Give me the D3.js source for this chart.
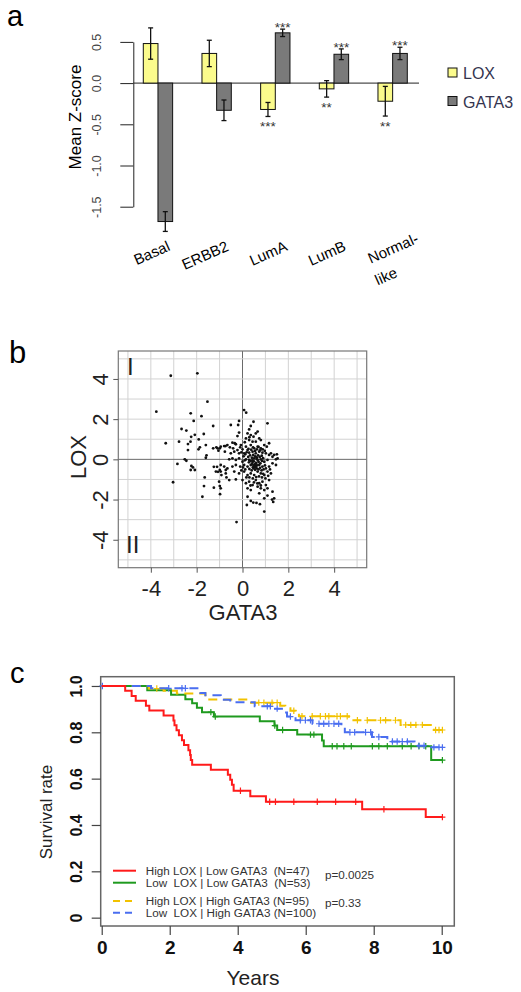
<!DOCTYPE html>
<html>
<head>
<meta charset="utf-8">
<script src="https://d3js.org/d3.v7.min.js"></script>
<style>
  html, body { margin: 0; padding: 0; background: #fff; }
  svg { display: block; }
  text { font-family: "Liberation Sans", Arial, sans-serif; }
</style>
</head>
<body>
<div id="chart"></div>
<script>
// ---- panel a: mean z-score per subtype
const subtypes = ["Basal", "ERBB2", "LumA", "LumB", "Normal-like"];
const genes = ["LOX", "GATA3"];
const loxMean = [0.48, 0.36, -0.32, -0.07, -0.22];
const loxErr = [0.19, 0.16, 0.085, 0.10, 0.18];
const gataMean = [-1.68, -0.33, 0.61, 0.35, 0.36];
const gataErr = [0.12, 0.125, 0.045, 0.065, 0.075];
const loxStars = ["", "", "***", "**", "**"];
const gataStars = ["", "", "***", "***", "***"];
const zTicks = [-1.5, -1, -0.5, 0, 0.5];

// ---- panel b: GATA3 (x) vs LOX (y)
const scatterTicks = [-4, -2, 0, 2, 4];
const scatterPoints = [
  [-3.13,4.16],[-1.97,4.28],[-1.53,2.87],[-3.76,2.37],[-2.26,2.29],[-1.79,2.15],[-2.13,1.91],[-1.28,1.66],
  [-2.66,1.51],[-2.45,1.43],[-2.24,1.12],[-2.08,1.22],[-1.69,1.26],[-1.91,0.99],[-3.35,0.80],[-2.77,0.88],
  [-2.38,0.76],[-2.27,0.88],[-1.86,0.60],[-1.92,0.50],[-2.38,0.46],[-1.60,0.71],[-1.28,0.55],[-1.14,0.60],
  [-0.99,0.55],[-1.05,0.43],[-0.77,0.38],[-0.55,0.60],[-0.34,0.80],[-0.41,0.55],[-0.74,0.66],[-1.57,0.20],
  [-1.60,0.08],[-2.52,0.00],[-2.45,-0.07],[-2.84,-0.23],[-2.23,-0.33],[-2.16,-0.40],[-2.08,-0.53],[-2.26,-0.53],
  [-1.25,-0.37],[-1.11,-0.37],[-0.99,-0.53],[-1.07,-0.62],[-0.73,-0.53],[-0.92,-0.78],[-0.70,-0.90],[-1.65,-0.90],
  [-3.03,-1.14],[-1.68,-1.33],[-1.25,-1.41],[-0.99,-1.33],[-1.75,-1.86],[-0.98,-1.73],[-0.26,-3.12],
  [0.07,2.45],[0.16,2.32],[-0.51,1.71],[-0.15,1.91],[-0.19,1.71],[0.48,1.87],[1.09,1.79],[0.36,1.66],
  [0.29,1.49],[-0.15,1.33],[0.22,1.29],[0.36,1.21],[0.58,1.29],[0.66,1.38],
  [-0.22,1.16],[0.48,1.13],[0.15,1.04],[0.73,1.04],[0.80,0.96],[0.29,0.96],[0.58,0.88],[0.44,0.88],
  [-0.44,0.83],[-0.29,0.75],[-0.66,0.71],[-0.80,0.66],[-0.95,0.63],[-1.09,0.55],[0.95,0.71],[1.06,0.63],
  [1.16,0.80],[-0.07,0.71],[0.15,0.63],[0.36,0.71],[0.66,0.63],[0.80,0.55],[0.51,0.55],[0.22,0.46],[0.00,0.50],
  [-0.36,0.38],[-0.22,0.46],[-0.51,0.30],[-0.15,0.30],[0.07,0.30],[0.29,0.33],[0.44,0.38],[0.58,0.30],
  [0.73,0.38],[0.87,0.33],[1.02,0.30],[1.16,0.22],[1.24,0.30],[1.38,0.22],[1.50,0.25],
  [-0.58,0.00],[-0.44,0.05],[-0.29,-0.03],[-0.15,0.05],[0.00,-0.12],[0.15,0.00],[0.29,-0.03],[0.44,-0.12],
  [0.51,0.05],[0.66,-0.03],[0.80,0.00],[0.95,-0.12],[1.09,-0.03],[1.31,0.13],[1.46,0.00],[1.53,0.05],
  [-0.95,-0.28],[-0.80,-0.36],[-0.66,-0.45],[-0.44,-0.36],[-0.29,-0.28],[-0.10,-0.36],[0.07,-0.28],[0.22,-0.36],
  [0.36,-0.28],[0.48,-0.45],[0.58,-0.33],[0.73,-0.28],[0.87,-0.36],[1.02,-0.45],[1.16,-0.36],[1.31,-0.20],[1.46,-0.28],
  [-1.16,-0.61],[-0.95,-0.61],[-0.73,-0.70],[-0.36,-0.61],[-0.15,-0.70],[0.07,-0.61],[0.22,-0.78],[0.36,-0.70],
  [0.51,-0.78],[0.66,-0.61],[0.80,-0.70],[0.95,-0.78],[1.09,-0.61],[1.24,-0.70],
  [-1.02,-1.11],[-0.58,-1.03],[-0.29,-1.00],[0.00,-1.03],[0.15,-1.19],[0.29,-1.11],[0.44,-1.28],[0.58,-1.03],
  [0.73,-1.19],[0.87,-1.11],[1.02,-1.28],[1.16,-1.03],
  [-0.95,-1.44],[0.22,-1.44],[0.36,-1.53],[0.66,-1.36],[0.80,-1.44],[0.95,-1.53],[1.09,-1.44],[1.31,-1.61],
  [0.22,-1.86],[0.73,-1.69],[0.95,-1.94],[1.09,-1.80],[1.38,-1.94],
  [0.19,-2.27],[0.36,-2.07],[0.47,-2.15],[0.61,-2.17],[0.76,-2.23],[1.29,-2.00],[1.34,-2.12],[0.95,-2.60],
  [0.25,0.12],[0.33,0.20],[0.41,0.08],[0.47,0.22],[0.55,0.15],[0.62,0.10],[0.68,0.20],[0.75,0.12],[0.84,0.18],[0.90,0.06],
  [0.28,-0.15],[0.35,-0.08],[0.42,-0.22],[0.50,-0.10],[0.53,-0.25],[0.60,-0.18],[0.64,-0.30],[0.70,-0.12],[0.78,-0.20],[0.85,-0.08],
  [0.30,-0.48],[0.40,-0.55],[0.45,-0.40],[0.55,-0.52],[0.62,-0.45],[0.70,-0.50],[0.77,-0.42],[0.83,-0.55],[0.92,-0.50],[0.98,-0.30],
  [0.18,0.35],[0.26,0.52],[0.38,0.48],[0.46,0.60],[0.55,0.42],[0.63,0.50],[0.70,0.62],[0.77,0.45],[0.88,0.50],[0.97,0.42],
  [0.05,0.15],[0.10,-0.05],[0.12,0.25],[0.02,-0.40],[0.12,-0.50],[-0.05,-0.55],[0.17,-0.90],[0.30,-0.90],[0.45,-0.95],[0.60,-0.88],
  [0.72,-0.85],[0.85,-0.90],[1.00,-0.95],[0.50,-1.15],[0.65,-1.20],[0.80,-1.30],[0.35,-1.30],[0.90,-0.72],[1.12,-0.82],[1.20,-0.50],
  [0.52,-0.35],[0.58,-0.22],[0.48,-0.30],[0.56,-0.40],[0.44,-0.05],[0.62,0.02],[-0.05,0.35],[-0.10,0.60],[0.10,0.85],[0.30,1.10]
];

// ---- panel c: Kaplan-Meier curves (years, survival)
const yearTicks = [0, 2, 4, 6, 8, 10];
const survTicks = [0, 0.2, 0.4, 0.6, 0.8, 1.0];
const redTime = [0,0.69,0.88,1.0,1.3,1.4,1.82,2.11,2.14,2.2,2.27,2.36,2.42,2.55,2.6,2.62,2.66,3.21,3.71,3.78,3.83,3.88,4.37,4.83,7.66,9.53,10.02];
const redSurv = [1,0.979,0.957,0.936,0.915,0.894,0.872,0.851,0.830,0.809,0.787,0.766,0.745,0.723,0.702,0.681,0.660,0.638,0.617,0.595,0.574,0.548,0.524,0.500,0.468,0.434,0.434];
const redCensor = [4.08,4.94,5.11,5.65,6.34,6.88,7.47,8.3,10.02];
const greenTime = [0,1.34,2.04,2.46,2.66,2.8,2.95,3.3,4.65,5.08,5.16,5.75,6.48,6.53,9.69,10.02];
const greenSurv = [1,0.981,0.962,0.943,0.925,0.906,0.887,0.868,0.848,0.829,0.81,0.79,0.765,0.74,0.68,0.68];
const greenCensor = [3.21,3.34,5.09,5.32,6.14,6.24,6.78,6.92,7.12,7.34,7.96,8.15,8.4,8.84,9.1,9.33,9.53,10.02];
const yellowTime = [0,1.38,1.82,2.21,3.05,4.3,5.25,5.4,5.55,5.7,5.8,7.27,8.79,9.77,10.02];
const yellowSurv = [1,0.989,0.979,0.968,0.942,0.928,0.915,0.904,0.893,0.882,0.869,0.852,0.832,0.81,0.81];
const yellowCensor = [1.62,4.62,4.77,5.01,5.16,5.65,5.89,6.19,6.43,6.58,6.68,6.92,7.02,7.22,7.52,7.81,8.2,8.35,8.64,8.94,9.09,9.24,9.43,9.82,9.92,10.02];
const blueTime = [0,1.45,2.9,3.05,3.5,3.78,4.5,5.0,5.3,5.45,5.7,6.2,7.05,7.15,7.95,8.4,9.2,9.6,10.02];
const blueSurv = [1,0.99,0.97,0.96,0.94,0.93,0.912,0.902,0.885,0.868,0.852,0.837,0.82,0.80,0.78,0.76,0.742,0.735,0.735];
const blueCensor = [0.02,1.97,2.36,2.46,4.87,4.96,5.16,5.55,5.84,5.99,6.14,6.39,6.53,6.68,6.83,6.97,7.3,7.44,7.76,7.91,8.15,8.55,8.69,8.84,8.99,9.33,9.48,9.77,9.92,10.02];
const kmLabels = ["High LOX | Low GATA3  (N=47)", "Low  LOX | Low GATA3  (N=53)", "High LOX | High GATA3 (N=95)", "Low  LOX | High GATA3 (N=100)"];
const pValues = ["p=0.0025", "p=0.33"];

const svg = d3.select("#chart").append("svg")
    .attr("width", 521)
    .attr("height", 992);

// panel letters
svg.append("text").attr("x", 7).attr("y", 26).attr("font-size", 29).text("a");
svg.append("text").attr("x", 9).attr("y", 363).attr("font-size", 31).text("b");
svg.append("text").attr("x", 10).attr("y", 683).attr("font-size", 29).text("c");

// ================= panel a =================
const ya = d3.scaleLinear().domain([-1.5, 0.5]).range([206.7, 41.9]);
const xa = d3.scaleBand().domain(subtypes).range([143.3, 407.3]).paddingInner(0.5).paddingOuter(0);
const xa1 = d3.scaleBand().domain(genes).range([0, xa.bandwidth()]);

const axA = svg.append("g")
    .attr("transform", "translate(133.3,0)")
    .call(d3.axisLeft(ya).tickValues(zTicks).tickSize(13).tickSizeOuter(0).tickFormat(d => d.toFixed(1)));
axA.select(".domain").attr("stroke", "#222");
axA.selectAll(".tick line").attr("stroke", "#222");
axA.selectAll(".tick text")
    .attr("x", 0).attr("dy", 0)
    .attr("text-anchor", "middle")
    .attr("transform", "translate(-32,0) rotate(-90)")
    .attr("font-size", 12.5)
    .attr("fill", "#444")
    .attr("font-family", "Liberation Sans, Arial, sans-serif");

svg.append("text")
    .attr("transform", "translate(81,117) rotate(-90)")
    .attr("text-anchor", "middle")
    .attr("font-size", 17)
    .text("Mean Z-score");

// zero line
svg.append("line")
    .attr("x1", 133.3).attr("x2", 419)
    .attr("y1", ya(0)).attr("y2", ya(0))
    .attr("stroke", "#222").attr("stroke-width", 1);

const barData = [];
subtypes.forEach((s, i) => {
  barData.push({ s, g: "LOX", v: loxMean[i], e: loxErr[i], star: loxStars[i] });
  barData.push({ s, g: "GATA3", v: gataMean[i], e: gataErr[i], star: gataStars[i] });
});
const barColor = { LOX: "#fbfb8c", GATA3: "#7a7a7a" };

const bars = svg.append("g").selectAll("g").data(barData).join("g")
    .attr("transform", d => `translate(${xa(d.s) + xa1(d.g)},0)`);
bars.append("rect")
    .attr("x", 0)
    .attr("width", xa1.bandwidth())
    .attr("y", d => ya(Math.max(0, d.v)))
    .attr("height", d => Math.abs(ya(d.v) - ya(0)))
    .attr("fill", d => barColor[d.g])
    .attr("stroke", "#111").attr("stroke-width", 1);
const cx = xa1.bandwidth() / 2;
bars.append("line")
    .attr("x1", cx).attr("x2", cx)
    .attr("y1", d => ya(d.v + d.e)).attr("y2", d => ya(d.v - d.e))
    .attr("stroke", "#111").attr("stroke-width", 1.3);
bars.selectAll(".cap").data(d => [d.v + d.e, d.v - d.e]).join("line")
    .attr("class", "cap")
    .attr("x1", cx - 2.5).attr("x2", cx + 2.5)
    .attr("y1", d => ya(d)).attr("y2", d => ya(d))
    .attr("stroke", "#111").attr("stroke-width", 1.3);
bars.append("text")
    .attr("x", cx)
    .attr("y", d => d.v >= 0 ? ya(d.v + d.e) + 3 : ya(d.v - d.e) + 15)
    .attr("text-anchor", "middle")
    .attr("font-size", 13.5)
    .attr("fill", "#333")
    .text(d => d.star);

// subtype labels
subtypes.forEach(s => {
  const c = xa(s) + xa.bandwidth() / 2;
  if (s === "Normal-like") {
    svg.append("text").attr("x", c + 2.5).attr("y", 253).attr("text-anchor", "middle")
        .attr("font-size", 15).attr("transform", `rotate(-24,${c + 2.5},253)`).text("Normal-");
    svg.append("text").attr("x", c - 4.5).attr("y", 281).attr("text-anchor", "middle")
        .attr("font-size", 15).attr("transform", `rotate(-24,${c - 4.5},281)`).text("like");
  } else {
    svg.append("text").attr("x", c + 13).attr("y", 250).attr("text-anchor", "end")
        .attr("font-size", 15).attr("transform", `rotate(-24,${c + 13},250)`).text(s);
  }
});

// legend a
genes.forEach((g, i) => {
  svg.append("rect").attr("x", 448).attr("y", 68 + i * 28.5).attr("width", 9).attr("height", 9)
      .attr("fill", barColor[g]).attr("stroke", "#111").attr("stroke-width", 1);
  svg.append("text").attr("x", 463).attr("y", 79 + i * 28.5).attr("font-size", 16)
      .attr("fill", "#34344f").text(g);
});

// ================= panel b =================
const xb = d3.scaleLinear().domain([-5.42, 5.42]).range([118.3, 366.7]);
const yb = d3.scaleLinear().domain([-5.39, 5.39]).range([567.7, 351]);
const gridVals = d3.range(-5, 6);
svg.append("g").selectAll("line").data(gridVals).join("line")
    .attr("x1", d => xb(d)).attr("x2", d => xb(d))
    .attr("y1", 351).attr("y2", 567.7)
    .attr("stroke", d => d === 0 ? "#6a6a6a" : "#d2d2d2").attr("stroke-width", 1);
svg.append("g").selectAll("line").data(gridVals).join("line")
    .attr("x1", 118.3).attr("x2", 366.7)
    .attr("y1", d => yb(d)).attr("y2", d => yb(d))
    .attr("stroke", d => d === 0 ? "#6a6a6a" : "#d2d2d2").attr("stroke-width", 1);
svg.append("rect").attr("x", 118.3).attr("y", 351).attr("width", 248.4).attr("height", 216.7)
    .attr("fill", "none").attr("stroke", "#777").attr("stroke-width", 1.2);

svg.append("g").selectAll("circle").data(scatterPoints).join("circle")
    .attr("cx", d => xb(d[0])).attr("cy", d => yb(d[1]))
    .attr("r", 1.4).attr("fill", "#111");

const axBy = svg.append("g").attr("transform", "translate(118.3,0)")
    .call(d3.axisLeft(yb).tickValues(scatterTicks).tickSize(5).tickSizeOuter(0).tickFormat(d => String(d)));
axBy.select(".domain").remove();
axBy.selectAll(".tick line").attr("stroke", "#555");
axBy.selectAll(".tick text")
    .attr("x", 0).attr("dy", 0).attr("text-anchor", "middle")
    .attr("transform", "translate(-10.3,0) rotate(-90)")
    .attr("font-size", 22).attr("fill", "#222")
    .attr("font-family", "Liberation Sans, Arial, sans-serif");

const axBx = svg.append("g").attr("transform", "translate(0,567.7)")
    .call(d3.axisBottom(xb).tickValues(scatterTicks).tickSize(5).tickSizeOuter(0).tickFormat(d => String(d)));
axBx.select(".domain").remove();
axBx.selectAll(".tick line").attr("stroke", "#555");
axBx.selectAll(".tick text")
    .attr("y", 28).attr("dy", 0)
    .attr("font-size", 22).attr("fill", "#222")
    .attr("font-family", "Liberation Sans, Arial, sans-serif");

svg.append("text").attr("transform", "translate(86,457) rotate(-90)").attr("text-anchor", "middle")
    .attr("font-size", 22).attr("fill", "#222").text("LOX");
svg.append("text").attr("x", 243).attr("y", 620).attr("text-anchor", "middle")
    .attr("font-size", 22).attr("fill", "#222").text("GATA3");
svg.append("text").attr("x", 127).attr("y", 375).attr("font-size", 24)
    .attr("font-family", "Liberation Serif, serif").attr("fill", "#222").text("I");
svg.append("text").attr("x", 126).attr("y", 553).attr("font-size", 24)
    .attr("font-family", "Liberation Serif, serif").attr("fill", "#222").text("II");

// ================= panel c =================
const xc = d3.scaleLinear().domain([-0.03, 10.37]).range([100.7, 454.3]);
const yc = d3.scaleLinear().domain([-0.036, 1.04]).range([926, 676.7]);

svg.append("rect").attr("x", 100.7).attr("y", 676.7).attr("width", 353.6).attr("height", 249.3)
    .attr("fill", "none").attr("stroke", "#666").attr("stroke-width", 1.5);

const axCy = svg.append("g").attr("transform", "translate(100.7,0)")
    .call(d3.axisLeft(yc).tickValues(survTicks).tickSize(9).tickSizeOuter(0)
        .tickFormat(d => d === 0 ? "0" : d.toFixed(1)));
axCy.select(".domain").remove();
axCy.selectAll(".tick line").attr("stroke", "#444").attr("stroke-width", 1.2);
axCy.selectAll(".tick text")
    .attr("x", 0).attr("dy", 0).attr("text-anchor", "middle")
    .attr("transform", "translate(-18.5,0) rotate(-90)")
    .attr("font-size", 16).attr("font-weight", "bold").attr("fill", "#111")
    .attr("font-family", "Liberation Sans, Arial, sans-serif");

const axCx = svg.append("g").attr("transform", "translate(0,926)")
    .call(d3.axisBottom(xc).tickValues(yearTicks).tickSize(9).tickSizeOuter(0).tickFormat(d => String(d)));
axCx.select(".domain").remove();
axCx.selectAll(".tick line").attr("stroke", "#444").attr("stroke-width", 1.2);
axCx.selectAll(".tick text")
    .attr("y", 28).attr("dy", 0)
    .attr("font-size", 19).attr("font-weight", "bold").attr("fill", "#111")
    .attr("font-family", "Liberation Sans, Arial, sans-serif");

svg.append("text").attr("transform", "translate(52,812) rotate(-90)").attr("text-anchor", "middle")
    .attr("font-size", 17).attr("fill", "#222").text("Survival rate");
svg.append("text").attr("x", 253).attr("y", 985).attr("text-anchor", "middle")
    .attr("font-size", 21).attr("fill", "#222").text("Years");

const curves = [
  { t: redTime, s: redSurv, c: redCensor, color: "#ff1a1a", dash: null },
  { t: greenTime, s: greenSurv, c: greenCensor, color: "#1f9a1f", dash: null },
  { t: yellowTime, s: yellowSurv, c: yellowCensor, color: "#f2c200", dash: "9,6" },
  { t: blueTime, s: blueSurv, c: blueCensor, color: "#4a6ef0", dash: "9,6" }
];
const stepLine = d3.line().curve(d3.curveStepAfter).x(d => xc(d[0])).y(d => yc(d[1]));
function survAt(cv, time) {
  let v = cv.s[0];
  for (let i = 0; i < cv.t.length; i++) { if (cv.t[i] <= time) v = cv.s[i]; }
  return v;
}
// draw in back-to-front order: green, yellow, blue, red
[1, 2, 3, 0].forEach(k => {
  const cv = curves[k];
  const pts = cv.t.map((t, i) => [t, cv.s[i]]);
  svg.append("path").datum(pts)
      .attr("d", stepLine)
      .attr("fill", "none")
      .attr("stroke", cv.color)
      .attr("stroke-width", 2)
      .attr("stroke-dasharray", cv.dash);
  const g = svg.append("g").attr("stroke", cv.color).attr("stroke-width", 1.2);
  g.selectAll("path").data(cv.c).join("path")
      .attr("d", t => {
        const x = xc(t), y = yc(survAt(cv, t));
        return `M${x},${y - 3.2}V${y + 3.2}M${x - 3},${y}H${x + 3}`;
      });
});

// legend c
const legY = [870.7, 882.7, 901, 912.7];
curves.forEach((cv, i) => {
  svg.append("line").attr("x1", 113).attr("x2", 136).attr("y1", legY[i]).attr("y2", legY[i])
      .attr("stroke", cv.color).attr("stroke-width", 2).attr("stroke-dasharray", cv.dash ? "7,5" : null);
  svg.append("text").attr("x", 145.7).attr("y", legY[i] + 4).attr("font-size", 11.7)
      .attr("fill", "#333").style("white-space", "pre").text(kmLabels[i]);
});
svg.append("text").attr("x", 325).attr("y", 879).attr("font-size", 11.7).attr("fill", "#333").text(pValues[0]);
svg.append("text").attr("x", 325).attr("y", 907).attr("font-size", 11.7).attr("fill", "#333").text(pValues[1]);
</script>
</body>
</html>
